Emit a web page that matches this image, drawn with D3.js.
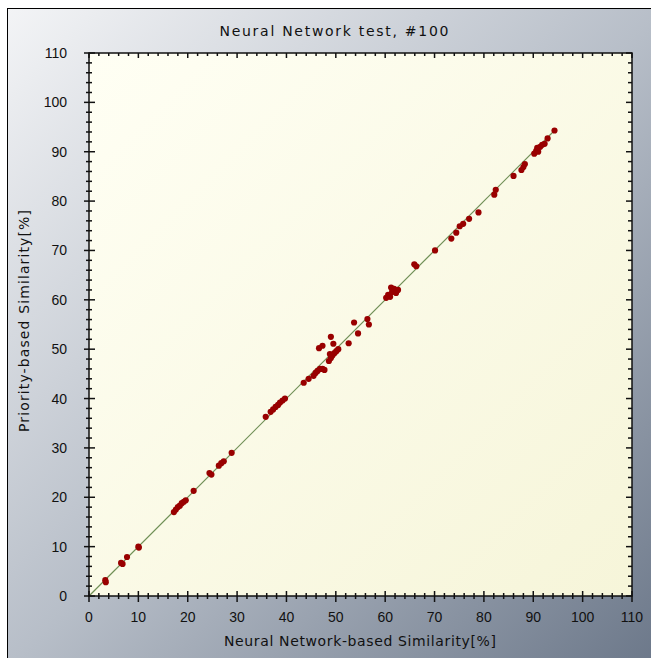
<!DOCTYPE html>
<html>
<head>
<meta charset="utf-8">
<script src="https://cdn.jsdelivr.net/npm/d3@7"></script>
<style>
  body { margin: 0; background: #fff; }
  svg { display: block; }
  text { font-family: "Liberation Sans", Arial, sans-serif; fill: #111; }
  text.ttl { font-family: "DejaVu Sans", sans-serif; }
</style>
</head>
<body>
<svg id="chart" width="651" height="658"></svg>
<script>
// values (x = neural network, y = priority)
let nnSim = [3.3, 3.4, 6.5, 6.8, 7.7, 10, 10.1, 17.2, 17.6, 18.0, 18.4, 18.8, 19.2, 19.6, 21.2,
  24.4, 24.8, 26.3, 26.8, 27.3, 28.9, 35.8, 36.8, 37.3, 37.8, 38.3, 38.7, 39.2, 39.7,
  43.5, 44.5, 45.5, 45.9, 46.3, 46.8, 47.3, 47.7, 46.6, 47.3, 49.0, 49.5, 48.6, 49.0, 49.3,
  49.7, 50.1, 50.5, 48.8, 52.6, 53.7, 54.5, 56.4, 56.7, 60.2, 60.6, 61.0, 61.4, 61.8, 62.2,
  62.6, 61.2, 65.9, 66.3, 70.1, 73.4, 74.4, 75.1, 75.8, 77.0, 78.9, 82.1, 82.4, 86.0, 87.6,
  88.0, 88.3, 90.2, 90.6, 91.0, 91.4, 91.8, 92.3, 90.8, 92.9, 94.3]
let prioSim = [3.2, 2.8, 6.7, 6.5, 7.9, 10, 9.8, 17.0, 17.5, 18.0, 18.3, 18.8, 19.1, 19.4, 21.3,
  24.9, 24.6, 26.4, 26.9, 27.3, 29.0, 36.3, 37.3, 37.8, 38.3, 38.7, 39.2, 39.6, 40.0,
  43.2, 44.0, 44.6, 45.2, 45.6, 46.0, 46.0, 45.8, 50.2, 50.7, 52.5, 51.1, 47.6, 48.2, 48.7,
  49.2, 49.6, 50.0, 49.0, 51.2, 55.4, 53.2, 56.1, 55.0, 60.4, 61.0, 60.6, 61.6, 62.2, 61.4,
  62.0, 62.5, 67.2, 66.8, 70.0, 72.4, 73.6, 74.9, 75.4, 76.4, 77.7, 81.3, 82.3, 85.1, 86.3,
  86.9, 87.5, 89.6, 90.2, 90.0, 91.0, 91.4, 91.6, 90.8, 92.7, 94.3]
let fitLine = [[0, 0], [94.5, 94.5]]
let tickVals = d3.range(0, 111, 10)
let minorVals = d3.range(0, 111, 2).filter(v => v % 10 != 0)
let title = "Neural Network test, #100"
let xTitle = "Neural Network-based Similarity[%]"
let yTitle = "Priority-based Similarity[%]"

let svg = d3.select("#chart")
let defs = svg.append("defs")

let bg = defs.append("linearGradient").attr("id", "bg")
  .attr("x1", "0").attr("y1", "0").attr("x2", "1").attr("y2", "1")
bg.append("stop").attr("offset", "0").attr("stop-color", "#f3f4f6")
bg.append("stop").attr("offset", "0.5").attr("stop-color", "#b7bec8")
bg.append("stop").attr("offset", "1").attr("stop-color", "#6a7688")

let pbg = defs.append("linearGradient").attr("id", "pbg")
  .attr("x1", "0").attr("y1", "0").attr("x2", "1").attr("y2", "1")
pbg.append("stop").attr("offset", "0").attr("stop-color", "#fffff4")
pbg.append("stop").attr("offset", "1").attr("stop-color", "#f6f5d9")

// outer frame
svg.append("rect")
  .attr("x", 7.5).attr("y", 8.5).attr("width", 660).attr("height", 660)
  .attr("fill", "url(#bg)").attr("stroke", "#000").attr("stroke-width", 1)

let pLeft = 89, pRight = 632, pTop = 53, pBottom = 596
let xScale = d3.scaleLinear().domain([0, 110]).range([pLeft, pRight])
let yScale = d3.scaleLinear().domain([0, 110]).range([pBottom, pTop])

svg.append("rect")
  .attr("x", pLeft).attr("y", pTop).attr("width", pRight - pLeft).attr("height", pBottom - pTop)
  .attr("fill", "url(#pbg)")

// fit line
svg.append("line")
  .attr("x1", xScale(fitLine[0][0])).attr("y1", yScale(fitLine[0][1]))
  .attr("x2", xScale(fitLine[1][0])).attr("y2", yScale(fitLine[1][1]))
  .attr("stroke", "#6f8f55").attr("stroke-width", 1.2)

// points
let pts = nnSim.map((v, i) => ({ x: v, y: prioSim[i] }))
svg.selectAll("path.pt")
  .data(pts)
  .enter()
  .append("path")
  .attr("class", "pt")
  .attr("d", d3.symbol().type(d3.symbolCircle).size(30))
  .attr("transform", d => `translate(${xScale(d.x)},${yScale(d.y)})`)
  .attr("fill", "#990000")

// frame lines
svg.append("rect")
  .attr("x", pLeft).attr("y", pTop).attr("width", pRight - pLeft).attr("height", pBottom - pTop)
  .attr("fill", "none").attr("stroke", "#111").attr("stroke-width", 1.5)

let tk = svg.append("g").attr("stroke", "#111").attr("stroke-width", 1.5)
// bottom + left: ticks cross the axis, top + right: inward
tickVals.forEach(v => {
  tk.append("line").attr("x1", xScale(v)).attr("x2", xScale(v)).attr("y1", pBottom - 5).attr("y2", pBottom + 6)
  tk.append("line").attr("y1", yScale(v)).attr("y2", yScale(v)).attr("x1", pLeft - 5).attr("x2", pLeft + 6)
  tk.append("line").attr("x1", xScale(v)).attr("x2", xScale(v)).attr("y1", pTop).attr("y2", pTop + 5)
  tk.append("line").attr("y1", yScale(v)).attr("y2", yScale(v)).attr("x1", pRight).attr("x2", pRight - 6)
})
minorVals.forEach(v => {
  tk.append("line").attr("x1", xScale(v)).attr("x2", xScale(v)).attr("y1", pBottom - 3).attr("y2", pBottom + 3)
  tk.append("line").attr("y1", yScale(v)).attr("y2", yScale(v)).attr("x1", pLeft - 3).attr("x2", pLeft + 3)
  tk.append("line").attr("x1", xScale(v)).attr("x2", xScale(v)).attr("y1", pTop).attr("y2", pTop + 3)
  tk.append("line").attr("y1", yScale(v)).attr("y2", yScale(v)).attr("x1", pRight).attr("x2", pRight - 4)
})

// tick labels
svg.selectAll("text.xl")
  .data(tickVals).enter().append("text")
  .attr("class", "xl")
  .attr("x", d => xScale(d)).attr("y", 622)
  .attr("text-anchor", "middle").attr("font-size", 14)
  .text(d => d)
svg.selectAll("text.yl")
  .data(tickVals).enter().append("text")
  .attr("class", "yl")
  .attr("x", 67).attr("y", d => yScale(d) + 5)
  .attr("text-anchor", "end").attr("font-size", 14)
  .text(d => d)

svg.append("text")
  .attr("class", "ttl")
  .attr("x", 334).attr("y", 36)
  .attr("text-anchor", "middle").attr("font-size", 14)
  .attr("textLength", 229).attr("lengthAdjust", "spacing")
  .text(title)
svg.append("text")
  .attr("class", "ttl")
  .attr("x", 360).attr("y", 646)
  .attr("text-anchor", "middle").attr("font-size", 14)
  .attr("textLength", 272).attr("lengthAdjust", "spacing")
  .text(xTitle)
svg.append("text")
  .attr("class", "ttl")
  .attr("transform", "translate(29,321) rotate(-90)")
  .attr("text-anchor", "middle").attr("font-size", 14)
  .attr("textLength", 222).attr("lengthAdjust", "spacing")
  .text(yTitle)
</script>
</body>
</html>
